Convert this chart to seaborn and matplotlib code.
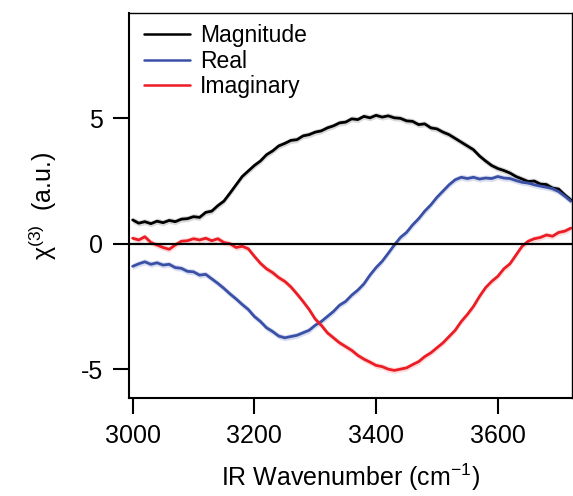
import numpy as np
import pandas as pd
import matplotlib
matplotlib.use("Agg")
import matplotlib.pyplot as plt
import seaborn as sns

# Wavenumber axis (cm^-1)
wavenumber = list(range(3000, 3721, 10))

magnitude = [0.95, 0.82, 0.88, 0.80, 0.90, 0.84, 0.93, 0.88, 0.98, 1.00,
             1.08, 1.05, 1.25, 1.30, 1.52, 1.70, 2.02, 2.35, 2.68, 2.90,
             3.12, 3.30, 3.55, 3.70, 3.90, 4.00, 4.12, 4.15, 4.30, 4.35,
             4.45, 4.50, 4.62, 4.70, 4.82, 4.85, 4.98, 4.95, 5.08, 5.02,
             5.12, 5.05, 5.10, 5.02, 5.00, 4.90, 4.88, 4.75, 4.78, 4.62,
             4.58, 4.45, 4.35, 4.20, 4.05, 3.90, 3.75, 3.50, 3.30, 3.12,
             3.00, 2.92, 2.82, 2.68, 2.58, 2.48, 2.50, 2.38, 2.36, 2.22,
             2.18, 1.95, 1.75]

real = [-0.90, -0.80, -0.72, -0.82, -0.76, -0.85, -0.82, -0.95, -0.98, -1.10,
        -1.12, -1.25, -1.22, -1.40, -1.58, -1.78, -2.00, -2.20, -2.42, -2.62,
        -2.90, -3.10, -3.35, -3.50, -3.68, -3.75, -3.70, -3.65, -3.55, -3.45,
        -3.25, -3.10, -2.90, -2.70, -2.45, -2.30, -2.05, -1.85, -1.60, -1.25,
        -0.95, -0.70, -0.38, -0.05, 0.25, 0.45, 0.75, 1.00, 1.30, 1.55,
        1.85, 2.10, 2.35, 2.55, 2.65, 2.60, 2.65, 2.58, 2.62, 2.60,
        2.68, 2.62, 2.60, 2.52, 2.45, 2.42, 2.35, 2.30, 2.25, 2.20,
        2.08, 1.90, 1.70]

imaginary = [0.22, 0.15, 0.28, 0.05, -0.05, -0.15, -0.22, -0.05, 0.10, 0.12,
             0.20, 0.15, 0.22, 0.12, 0.20, 0.05, 0.00, -0.15, -0.10, -0.20,
             -0.50, -0.78, -1.00, -1.15, -1.35, -1.50, -1.72, -2.00, -2.30, -2.62,
             -3.00, -3.25, -3.55, -3.75, -3.95, -4.10, -4.25, -4.45, -4.60, -4.72,
             -4.85, -4.90, -5.00, -5.05, -5.00, -4.95, -4.82, -4.70, -4.50, -4.35,
             -4.15, -3.95, -3.70, -3.45, -3.10, -2.82, -2.50, -2.10, -1.75, -1.50,
             -1.30, -1.00, -0.80, -0.45, -0.10, 0.10, 0.20, 0.25, 0.35, 0.30,
             0.45, 0.50, 0.62]

# Half-width of the uncertainty band on each trace (a.u.)
uncertainty = 0.12

series_names = ["Magnitude", "Real", "Imaginary"]
colors = {"Magnitude": "#000000", "Real": "#3a50a6", "Imaginary": "#ec1c24"}
band_colors = {"Magnitude": "#808080", "Real": "#7f8fd0", "Imaginary": "#f48c90"}

df = pd.DataFrame({
    "wavenumber": wavenumber * 3,
    "chi3": magnitude + real + imaginary,
    "component": [n for n in series_names for _ in wavenumber],
})

sns.set_style("ticks")
plt.rcParams["font.family"] = ["Liberation Sans", "DejaVu Sans"]
plt.rcParams["mathtext.fontset"] = "custom"
plt.rcParams["mathtext.rm"] = "Liberation Sans"
plt.rcParams["text.color"] = "black"
plt.rcParams["axes.labelcolor"] = "black"

fig = plt.figure(figsize=(5.73, 4.96), dpi=100)
ax = fig.add_axes([129 / 573, 1 - 398 / 496, 443 / 573, 385 / 496])

for name in series_names:
    sub = df[df["component"] == name]
    ax.fill_between(sub["wavenumber"], sub["chi3"] - uncertainty,
                    sub["chi3"] + uncertainty, color=band_colors[name],
                    alpha=0.3, lw=0, zorder=1)

sns.lineplot(data=df, x="wavenumber", y="chi3", hue="component",
             hue_order=series_names, palette=colors, lw=2.0, ax=ax,
             zorder=2, legend=True)

ax.axhline(0, color="black", lw=1.6, zorder=3)

ax.set_xlim(2994, 3722)
ax.set_ylim(-6.15, 9.2)
ax.set_xticks([3000, 3200, 3400, 3600])
ax.set_yticks([-5, 0, 5])
ax.set_yticklabels(["-5", "0", "5"])

ax.tick_params(axis="both", direction="out", length=11.5, width=1.5,
               pad=7, labelsize=18, colors="black")
for side in ["left", "bottom"]:
    ax.spines[side].set_linewidth(1.5)
for side in ["top", "right"]:
    ax.spines[side].set_linewidth(1.0)
    ax.spines[side].set_visible(True)
for s in ax.spines.values():
    s.set_color("black")

ax.set_xlabel(r"IR Wavenumber (cm$^{-1}$)", fontsize=18, labelpad=10)
ax.set_ylabel(r"χ$^{(3)}$  (a.u.)", fontsize=18, labelpad=16)

handles, labels = ax.get_legend_handles_labels()
leg = ax.legend(handles, labels, loc="upper left",
                bbox_to_anchor=(0.034, 0.972), frameon=False, fontsize=16.5,
                handlelength=2.0, handletextpad=0.45, labelspacing=0.12,
                borderpad=0, borderaxespad=0)
for line in leg.get_lines():
    line.set_linewidth(1.8)

fig.savefig("out.png", dpi=100)
